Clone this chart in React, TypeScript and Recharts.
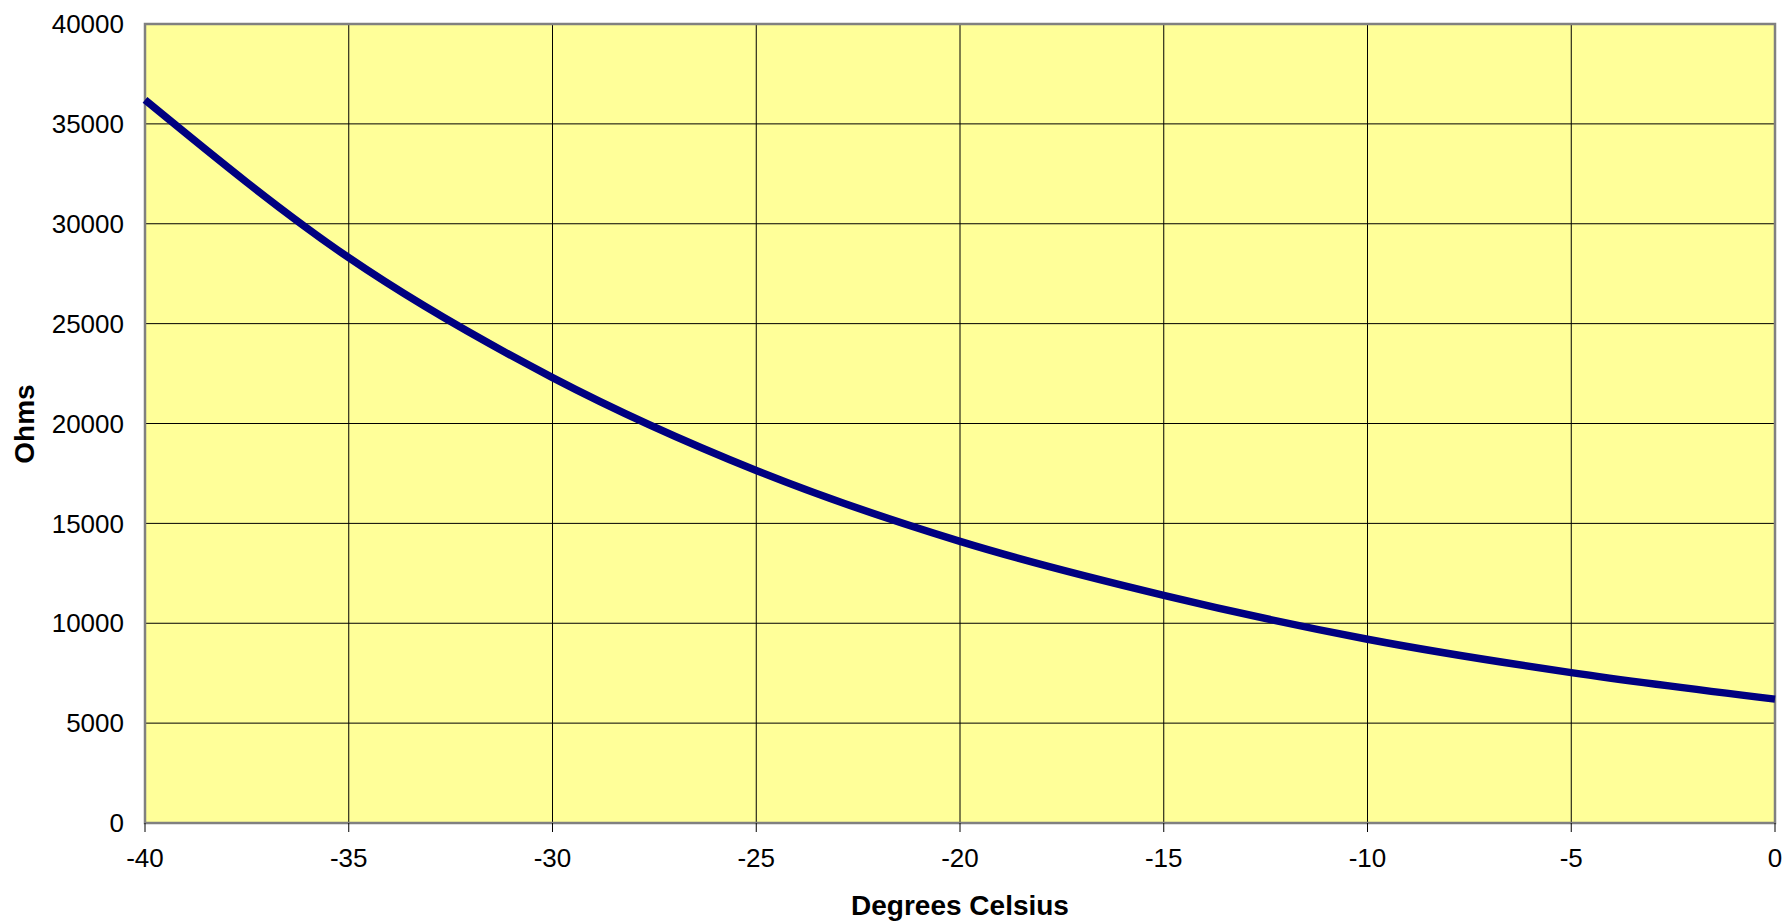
import React from 'react';
import { LineChart, Line, XAxis, YAxis, CartesianGrid, ReferenceArea, Label } from 'recharts';

const temperatures = [-40, -35, -30, -25, -20, -15, -10, -5, 0];
const ohms = [36200, 28300, 22300, 17650, 14100, 11400, 9200, 7530, 6200];
const xTicks = [-40, -35, -30, -25, -20, -15, -10, -5, 0];
const yTicks = [0, 5000, 10000, 15000, 20000, 25000, 30000, 35000, 40000];

const data = temperatures.map((t, i) => ({ t, r: ohms[i] }));

const FONT = "Arial, 'Liberation Sans', sans-serif";

export default function App() {
  return (
    <div style={{ position: 'absolute', left: 0, top: 0, width: 1786, height: 923, background: '#fff' }}>
      <LineChart width={1786} height={923} data={data} margin={{ top: 24, right: 11, left: 0, bottom: 0 }}>
        <CartesianGrid fill="#FFFF99" stroke="#000" strokeWidth={1} fillOpacity={1} />
        <XAxis
          type="number"
          dataKey="t"
          domain={[-40, 0]}
          ticks={xTicks}
          height={100}
          axisLine={false}
          tickSize={9}
          tickMargin={17}
          tickLine={{ stroke: '#000' }}
          tick={{ fill: '#000', fontSize: 26, fontFamily: FONT }}
        >
          <Label
            content={() => (
              <text x={960} y={915} textAnchor="middle" fontFamily={FONT} fontSize={28} fontWeight="bold" fill="#000">
                Degrees Celsius
              </text>
            )}
          />
        </XAxis>
        <YAxis
          type="number"
          domain={[0, 40000]}
          ticks={yTicks}
          width={145}
          axisLine={false}
          tickLine={false}
          tickSize={0}
          tickMargin={21}
          tick={{ fill: '#000', fontSize: 26, fontFamily: FONT }}
        >
          <Label
            content={() => (
              <text
                x={24}
                y={424}
                transform="rotate(-90 24 424)"
                textAnchor="middle"
                dominantBaseline="central"
                fontFamily={FONT}
                fontSize={28}
                fontWeight="bold"
                fill="#000"
              >
                Ohms
              </text>
            )}
          />
        </YAxis>
        <ReferenceArea x1={-40} x2={0} y1={0} y2={40000} fill="none" stroke="#808080" strokeWidth={2.5} />
        <Line
          type="monotone"
          dataKey="r"
          stroke="#000080"
          strokeWidth={7.5}
          dot={false}
          activeDot={false}
          isAnimationActive={false}
        />
      </LineChart>
    </div>
  );
}
